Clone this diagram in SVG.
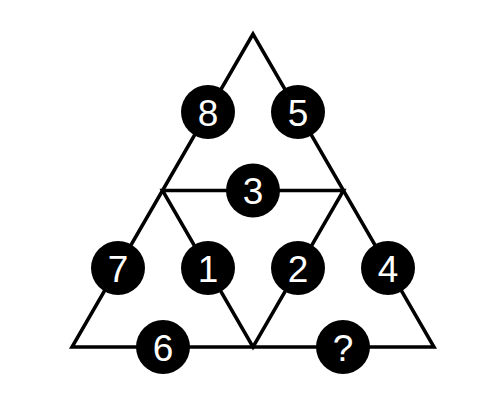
<svg xmlns="http://www.w3.org/2000/svg" width="482" height="400" viewBox="0 0 482 400">
<style>
.ln{stroke:#000;stroke-width:3.5;fill:none;stroke-linejoin:miter}
.c{fill:#000}
.t{fill:#fff;font-family:"Liberation Sans",Arial,sans-serif;font-size:37px;text-anchor:middle;dominant-baseline:central}
</style>
<rect width="482" height="400" fill="#fff"/>
<g id="connectors">
<polygon class="ln" points="253,34 72,347 434,347"/>
<polygon class="ln" points="162.5,190.5 343.5,190.5 253,347"/>
</g>
<g id="n8"><circle class="c" cx="208" cy="112" r="27"/><text class="t" x="208" y="113">8</text></g>
<g id="n5"><circle class="c" cx="298" cy="112" r="27"/><text class="t" x="298" y="113">5</text></g>
<g id="n3"><circle class="c" cx="253" cy="190.5" r="27"/><text class="t" x="253" y="191">3</text></g>
<g id="n7"><circle class="c" cx="118" cy="268" r="27"/><text class="t" x="118" y="269">7</text></g>
<g id="n1"><circle class="c" cx="208" cy="268" r="27"/><text class="t" x="208" y="269">1</text></g>
<g id="n2"><circle class="c" cx="298" cy="268" r="27"/><text class="t" x="298" y="269">2</text></g>
<g id="n4"><circle class="c" cx="388" cy="268" r="27"/><text class="t" x="388" y="269">4</text></g>
<g id="n6"><circle class="c" cx="163" cy="347" r="27"/><text class="t" x="163" y="348">6</text></g>
<g id="nq"><circle class="c" cx="343" cy="347" r="27"/><text class="t" x="343" y="348">?</text></g>
</svg>
